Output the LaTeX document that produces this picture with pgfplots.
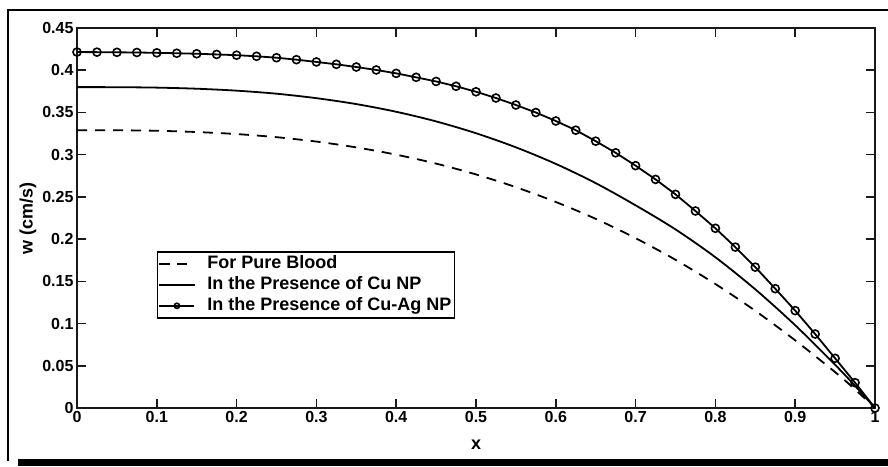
\documentclass[border=0pt]{standalone}
\usepackage{fontspec}
\setmainfont{Liberation Sans}
\usepackage{pgfplots}
\pgfplotsset{compat=1.18}
\pgfplotsset{mylegimg/.style={legend image code/.code={\draw[mark repeat=2,mark phase=2,##1] plot coordinates {(0pt,0pt) (17.5pt,0pt) (35pt,0pt)};}},
  mylegimgsmall/.style={legend image code/.code={\draw[mark repeat=2,mark phase=2,##1,mark size=2.6pt] plot coordinates {(0pt,0pt) (17.5pt,0pt) (35pt,0pt)};}}}
\begin{document}
\begin{tikzpicture}
\useasboundingbox (0pt,0pt) rectangle (888pt,466pt);
\fill[white] (0pt,0pt) rectangle (888pt,466pt);
\draw[line width=2pt] (8pt,5pt) -- (8pt,455.5pt) -- (888pt,455.5pt);
\fill[black] (18pt,0pt) rectangle (888pt,7pt);
\begin{axis}[
  at={(77pt,58pt)}, anchor=south west,
  scale only axis, width=798pt, height=380pt,
  xmin=0, xmax=1, ymin=0, ymax=0.45,
  xtick={0,0.1,0.2,0.3,0.4,0.5,0.6,0.7,0.8,0.9,1},
  ytick={0,0.05,0.1,0.15,0.2,0.25,0.3,0.35,0.4,0.45},
  yticklabel style={/pgf/number format/fixed,/pgf/number format/precision=2},
  xticklabel style={/pgf/number format/fixed,/pgf/number format/precision=1},
  /pgf/number format/assume math mode=true,
  ticklabel style={font=\bfseries\fontsize{16}{18}\selectfont},
  label style={font=\bfseries\fontsize{18}{20}\selectfont},
  tick align=inside, major tick length=9pt,
  tick style={line width=1.5pt, black!90},
  axis line style={line width=1.8pt, black!90},
  xlabel={x}, ylabel={w (cm/s)},
  xlabel style={at={(axis description cs:0.5,-0.097)}, anchor=center},
  ylabel style={at={(axis description cs:-0.0614,0.5)}, anchor=center, rotate=0},
  legend style={at={(rel axis cs:0.1,0.413)}, anchor=north west, draw=black, line width=1.5pt,
    font=\bfseries\fontsize{18}{20}\selectfont, inner xsep=1pt, inner ysep=1.5pt, row sep=0pt, column sep=10pt,
    nodes={text height=13pt, text depth=3.8pt, inner ysep=2.1pt}},
  legend cell align=left,
]
\addplot[black, line width=1.8pt, dash pattern=on 10pt off 8pt, smooth, mark=none, mylegimg] coordinates {
(0,0.3290) (0.05,0.3289) (0.1,0.3283) (0.15,0.3268) (0.2,0.3244) (0.25,0.3207) (0.3,0.3155)
(0.35,0.3086) (0.4,0.3000) (0.45,0.2894) (0.5,0.2766) (0.55,0.2615) (0.6,0.2440) (0.65,0.2240)
(0.7,0.2011) (0.75,0.1755) (0.8,0.1468) (0.85,0.1151) (0.9,0.0801) (0.95,0.0425) (0.975,0.0220) (1,0)
};
\addlegendentry{For Pure Blood}
\addplot[black, line width=1.8pt, smooth, mark=none, mylegimg] coordinates {
(0,0.3800) (0.05,0.3799) (0.1,0.3794) (0.15,0.3781) (0.2,0.3758) (0.25,0.3722) (0.3,0.3669)
(0.35,0.3599) (0.4,0.3508) (0.45,0.3394) (0.5,0.3254) (0.55,0.3087) (0.6,0.2891) (0.65,0.2663)
(0.7,0.2400) (0.75,0.2115) (0.8,0.1785) (0.85,0.1405) (0.9,0.0980) (0.95,0.0512) (0.975,0.0262) (1,0)
};
\addlegendentry{In the Presence of Cu NP}
\addplot[black, line width=1.8pt, mark=o, mark size=4pt, mark options={line width=1.6pt, solid}, mylegimgsmall] coordinates {
(0,0.4215) (0.025,0.4214) (0.05,0.4212) (0.075,0.4210) (0.1,0.4206) (0.125,0.4201) (0.15,0.4195)
(0.175,0.4187) (0.2,0.4178) (0.225,0.4165) (0.25,0.4148) (0.275,0.4125) (0.3,0.4098) (0.325,0.4070)
(0.35,0.4038) (0.375,0.4003) (0.4,0.3963) (0.425,0.3916) (0.45,0.3867) (0.475,0.3810) (0.5,0.3745)
(0.525,0.3671) (0.55,0.3588) (0.575,0.3499) (0.6,0.3399) (0.625,0.3290) (0.65,0.3160) (0.675,0.3022)
(0.7,0.2870) (0.725,0.2707) (0.75,0.2530) (0.775,0.2333) (0.8,0.2128) (0.825,0.1905) (0.85,0.1668)
(0.875,0.1413) (0.9,0.1153) (0.925,0.0876) (0.95,0.0588) (0.975,0.0300) (1,0)
};
\addlegendentry{In the Presence of Cu-Ag NP}
\end{axis}
\end{tikzpicture}
\end{document}
